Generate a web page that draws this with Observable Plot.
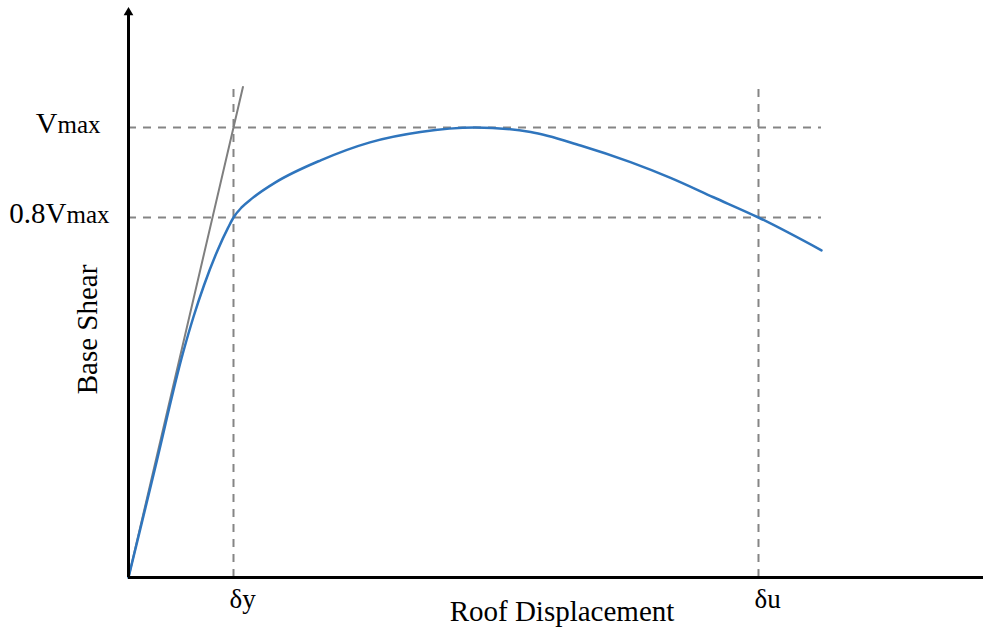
<!DOCTYPE html>
<html>
<head>
<meta charset="utf-8">
<script src="https://cdn.jsdelivr.net/npm/d3@7"></script>
<script src="https://cdn.jsdelivr.net/npm/@observablehq/plot@0.6"></script>
<style>
  html, body { margin: 0; padding: 0; background: #fff; }
  #chart svg { display: block; }
</style>
</head>
<body>
<div id="chart"></div>
<script>
// Pushover (capacity) curve: roof displacement (in units of δy) vs base shear (in units of Vmax)
const curveDisp  = [0, 0.25, 0.52, 0.62, 0.72, 0.85, 0.95, 1.0, 1.08, 1.18, 1.40, 1.83, 2.30, 2.78, 3.30, 3.83, 4.305, 4.781, 5.162, 5.571, 6.0, 6.6];
const curveShear = [0, 0.24, 0.50, 0.58, 0.65, 0.728, 0.778, 0.80, 0.823, 0.843, 0.878, 0.927, 0.967, 0.99, 1.0, 0.99, 0.96, 0.923, 0.888, 0.845, 0.80, 0.727];

// Idealised elastic stiffness line
const elasticDisp  = [0, 1.09];
const elasticShear = [0, 1.09];

// Reference levels
const shearLevels = [1, 0.8];
const shearLabels = ["Vmax", "0.8Vmax"];
const dispLevels  = [1, 6];
const dispLabels  = ["δy", "δu"];

const xTitle = "Roof Displacement";
const yTitle = "Base Shear";

// Axis extents
const xMax = 8.143;
const yMax = 1.26;
const guideXEnd = 6.6;
const guideYEnd = 1.09;

const curve   = curveDisp.map((d, i) => ({x: d, y: curveShear[i]}));
const elastic = elasticDisp.map((d, i) => ({x: d, y: elasticShear[i]}));

const dash = "8,7";
const guideColor = "#858585";

const chart = Plot.plot({
  width: 983,
  height: 632,
  marginLeft: 128,
  marginRight: 0,
  marginTop: 10,
  marginBottom: 55,
  x: {domain: [0, xMax], axis: null},
  y: {domain: [0, yMax], axis: null},
  style: {background: "#fff", fontFamily: "'Liberation Serif', 'Times New Roman', serif", color: "#000"},
  marks: [
    Plot.ruleY(shearLevels, {x1: 0, x2: guideXEnd, stroke: guideColor, strokeWidth: 2, strokeDasharray: dash}),
    Plot.ruleX(dispLevels, {y1: 0, y2: guideYEnd, stroke: guideColor, strokeWidth: 2, strokeDasharray: dash}),
    Plot.line(elastic, {x: "x", y: "y", stroke: "#7f7f7f", strokeWidth: 2}),
    Plot.line(curve, {x: "x", y: "y", stroke: "#2f75bd", strokeWidth: 2.5, curve: "monotone-x"}),
    Plot.ruleY([0], {x1: 0, x2: xMax, stroke: "#000", strokeWidth: 3}),
    Plot.ruleX([0], {y1: 0, y2: yMax, stroke: "#000", strokeWidth: 3}),
    Plot.dot([{x: 0, y: yMax}], {x: "x", y: "y", symbol: "triangle", r: 3.6, fill: "#000", stroke: null, dy: 2}),
    Plot.text([shearLabels[0]], {x: () => 0, y: () => shearLevels[0], text: d => d, textAnchor: "end", lineAnchor: "bottom", dx: -28, dy: 5, fontSize: 30, fill: "#000"}),
    Plot.text([shearLabels[1]], {x: () => 0, y: () => shearLevels[1], text: d => d, textAnchor: "end", lineAnchor: "bottom", dx: -19, dy: 5, fontSize: 29, fill: "#000"}),
    Plot.text(dispLevels, {x: d => d, y: () => 0, text: (d, i) => dispLabels[i], textAnchor: "start", lineAnchor: "bottom", dx: -4, dy: 30, fontSize: 27, fill: "#000"}),
    Plot.text([xTitle], {frameAnchor: "bottom", text: d => d, textAnchor: "middle", lineAnchor: "bottom", dx: 6, dy: 43, fontSize: 29, fill: "#000"}),
    Plot.text([yTitle], {frameAnchor: "left", text: d => d, textAnchor: "middle", lineAnchor: "bottom", rotate: -90, dx: -32, dy: 35.5, fontSize: 29, fill: "#000"})
  ]
});

// Render "max" slightly smaller, as in the reference
d3.select(chart).selectAll("text").each(function () {
  const t = this.textContent;
  const m = /^(.*V)max$/.exec(t);
  if (m) {
    this.textContent = m[1];
    const ts = document.createElementNS("http://www.w3.org/2000/svg", "tspan");
    ts.setAttribute("font-size", "25");
    ts.textContent = "max";
    this.appendChild(ts);
  }
});

document.getElementById("chart").appendChild(chart);
</script>
</body>
</html>
